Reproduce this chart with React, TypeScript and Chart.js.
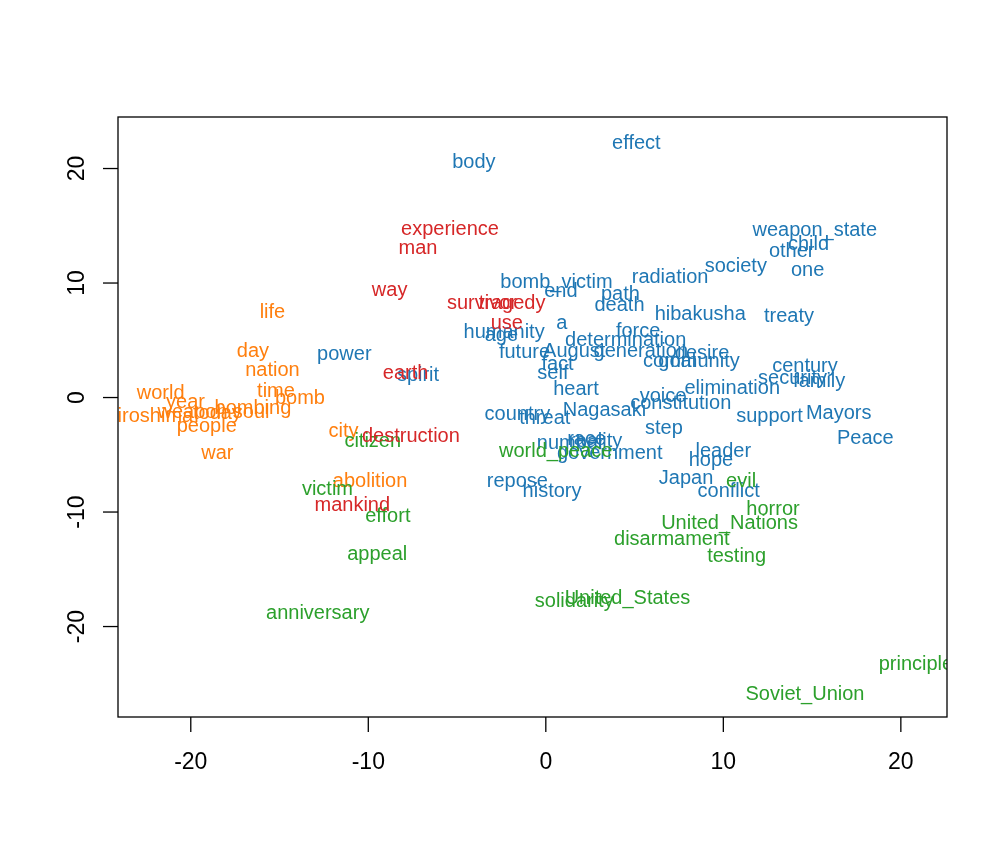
import React, { useEffect, useRef } from "react";
import { Chart, registerables } from "chart.js";

Chart.register(...registerables);

// ---- data (word embedding coordinates) ----
const blueWords = ["effect","body","weapon_state","child","other","one","society","radiation","bomb_victim","end","path","death","hibakusha","treaty","a","humanity","age","force","determination","power","future","August","generation","desire","community","goal","fact","self","spirit","century","security","family","heart","elimination","voice","constitution","Nagasaki","country","threat","support","Mayors","Peace","step","number","race","reality","government","leader","hope","repose","history","Japan","conflict"];
const blueX = [5.1,-4.05,15.15,14.8,13.85,14.75,10.7,7.0,0.6,0.85,4.2,4.15,8.7,13.7,0.9,-2.35,-2.5,5.2,4.5,-11.35,-1.2,1.6,5.35,8.8,8.2,7.4,0.66,0.4,-7.2,14.6,13.9,15.4,1.7,10.5,6.6,7.6,3.3,-1.6,-0.06,12.6,16.5,18.0,6.65,1.4,2.3,2.8,3.6,10.0,9.3,-1.6,0.35,7.9,10.3];
const blueY = [22.4,20.7,14.8,13.5,12.9,11.3,11.6,10.7,10.2,9.4,9.2,8.2,7.4,7.25,6.6,5.85,5.6,5.9,5.2,3.9,4.1,4.2,4.2,4.0,3.3,3.3,3.05,2.3,2.1,2.9,1.85,1.6,0.9,1.0,0.26,-0.35,-0.96,-1.3,-1.66,-1.5,-1.2,-3.4,-2.5,-3.8,-3.5,-3.7,-4.7,-4.5,-5.3,-7.2,-8.0,-6.9,-8.0];

const orangeWords = ["life","day","nation","time","bomb","world","year","weapon","Hiroshima","people","war","bombing","today","soul","city","abolition"];
const orangeX = [-15.4,-16.5,-15.4,-15.2,-13.85,-21.7,-20.3,-19.9,-22.4,-19.1,-18.5,-16.5,-18.5,-16.6,-11.4,-9.9];
const orangeY = [7.6,4.2,2.5,0.7,0.1,0.5,-0.25,-1.1,-1.5,-2.35,-4.7,-0.75,-1.2,-1.1,-2.8,-7.2];

const greenWords = ["world_peace","citizen","victim","effort","appeal","anniversary","evil","horror","United_Nations","disarmament","testing","solidarity","United_States","principle","Soviet_Union"];
const greenX = [0.56,-9.75,-12.3,-8.9,-9.5,-12.85,11.0,12.8,10.35,7.1,10.75,1.6,4.6,20.85,14.6];
const greenY = [-4.5,-3.7,-7.85,-10.2,-13.5,-18.7,-7.2,-9.6,-10.8,-12.2,-13.7,-17.6,-17.4,-23.1,-25.8];

const redWords = ["experience","man","way","survivor","tragedy","use","earth","destruction","mankind"];
const redX = [-5.4,-7.2,-8.8,-3.6,-1.9,-2.2,-7.9,-7.6,-10.9];
const redY = [14.85,13.2,9.5,8.4,8.4,6.6,2.3,-3.2,-9.25];

const xTicks = [-20, -10, 0, 10, 20];
const yTicks = [-20, -10, 0, 10, 20];

const xRange = [-24.1, 22.6];
const yRange = [-27.9, 24.5];

const groups = [
  { words: blueWords, xs: blueX, ys: blueY, color: "#1F77B4" },
  { words: orangeWords, xs: orangeX, ys: orangeY, color: "#FF7F0E" },
  { words: greenWords, xs: greenX, ys: greenY, color: "#2CA02C" },
  { words: redWords, xs: redX, ys: redY, color: "#D62728" },
];

const FONT = "Liberation Sans, Arial, Helvetica, sans-serif";

const wordPlugin = {
  id: "wordLabels",
  afterDatasetsDraw(chart: any) {
    const ctx = chart.ctx;
    const area = chart.chartArea;
    ctx.save();
    ctx.beginPath();
    ctx.rect(area.left, area.top, area.right - area.left, area.bottom - area.top);
    ctx.clip();
    ctx.font = `20px ${FONT}`;
    ctx.textAlign = "center";
    ctx.textBaseline = "middle";
    chart.data.datasets.forEach((ds: any, i: number) => {
      const meta = chart.getDatasetMeta(i);
      ctx.fillStyle = ds.textColor;
      meta.data.forEach((el: any, j: number) => {
        ctx.fillText(ds.words[j], el.x, el.y + 2);
      });
    });
    ctx.restore();
  },
};

const axesPlugin = {
  id: "rAxes",
  afterDraw(chart: any) {
    const ctx = chart.ctx;
    const a = chart.chartArea;
    const xs = chart.scales.x;
    const ys = chart.scales.y;
    ctx.save();
    ctx.strokeStyle = "#000";
    ctx.lineWidth = 1.3;
    ctx.strokeRect(a.left, a.top, a.right - a.left, a.bottom - a.top);
    ctx.fillStyle = "#000";
    ctx.font = `23px ${FONT}`;
    ctx.textAlign = "center";
    ctx.textBaseline = "middle";
    xTicks.forEach((t) => {
      const px = xs.getPixelForValue(t);
      ctx.beginPath();
      ctx.moveTo(px, a.bottom);
      ctx.lineTo(px, a.bottom + 15);
      ctx.stroke();
      ctx.fillText(String(t), px, a.bottom + 46);
    });
    yTicks.forEach((t) => {
      const py = ys.getPixelForValue(t);
      ctx.beginPath();
      ctx.moveTo(a.left, py);
      ctx.lineTo(a.left - 15, py);
      ctx.stroke();
      ctx.save();
      ctx.translate(a.left - 40, py);
      ctx.rotate(-Math.PI / 2);
      ctx.fillText(String(t), 0, 0);
      ctx.restore();
    });
    ctx.restore();
  },
};

export default function App() {
  const ref = useRef<HTMLCanvasElement | null>(null);
  useEffect(() => {
    if (!ref.current) return;
    const chart = new Chart(ref.current, {
      type: "scatter",
      data: {
        datasets: groups.map((g) => ({
          data: g.words.map((_, i) => ({ x: g.xs[i], y: g.ys[i] })),
          words: g.words,
          textColor: g.color,
          pointRadius: 0,
          pointHoverRadius: 0,
          backgroundColor: g.color,
        })) as any,
      },
      options: {
        animation: false,
        responsive: false,
        devicePixelRatio: 1,
        layout: { padding: { left: 118, top: 117, right: 61, bottom: 147 } },
        plugins: { legend: { display: false }, tooltip: { enabled: false } },
        events: [],
        scales: {
          x: { type: "linear", min: xRange[0], max: xRange[1], display: false },
          y: { type: "linear", min: yRange[0], max: yRange[1], display: false },
        },
      },
      plugins: [wordPlugin, axesPlugin],
    });
    return () => chart.destroy();
  }, []);
  return (
    <div style={{ position: "fixed", left: 0, top: 0, width: 1008, height: 864, background: "#fff" }}>
      <canvas ref={ref} width={1008} height={864} style={{ width: 1008, height: 864 }} />
    </div>
  );
}
